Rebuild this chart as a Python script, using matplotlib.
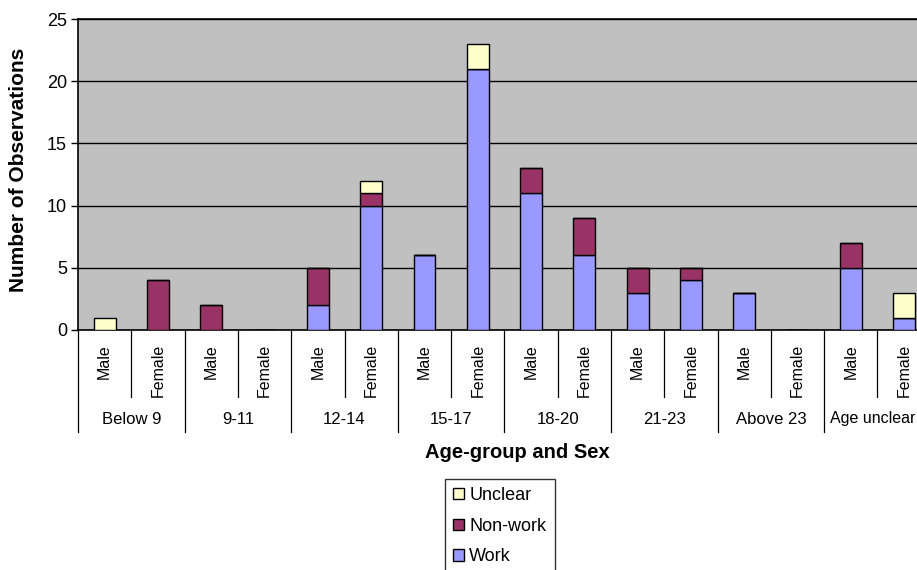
import numpy as np
import matplotlib
matplotlib.use("Agg")
import matplotlib.pyplot as plt
from matplotlib.transforms import blended_transform_factory

groups = ["Below 9", "9-11", "12-14", "15-17", "18-20", "21-23", "Above 23", "Age unclear"]
sexes = ["Male", "Female"]
work     = [0, 0, 0, 0, 2, 10, 6, 21, 11, 6, 3, 4, 3, 0, 5, 1]
non_work = [0, 4, 2, 0, 3, 1, 0, 0, 2, 3, 2, 1, 0, 0, 2, 0]
unclear  = [1, 0, 0, 0, 0, 1, 0, 2, 0, 0, 0, 0, 0, 0, 0, 2]

c_work, c_non, c_unc = "#9999FF", "#993366", "#FFFFCC"

plt.rcParams["font.family"] = ["Liberation Sans", "DejaVu Sans"]

fig = plt.figure(figsize=(9.17, 5.70), dpi=100)
W, H = 917, 570
ncat = len(work)
catw = 53.3
left, right, top, bottom = 78, 78 + ncat * catw, 19, 330
ax = fig.add_axes([left / W, 1 - bottom / H, (right - left) / W, (bottom - top) / H])
ax.set_facecolor("#C0C0C0")

x = np.arange(ncat)
w = 0.41
work = np.array(work); non_work = np.array(non_work); unclear = np.array(unclear)
kw = dict(width=w, edgecolor="black", linewidth=1.0, zorder=3)
b1 = ax.bar(x, work, color=c_work, label="Work", **kw)
b2 = ax.bar(x, non_work, bottom=work, color=c_non, label="Non-work", **kw)
b3 = ax.bar(x, unclear, bottom=work + non_work, color=c_unc, label="Unclear", **kw)

ax.set_xlim(-0.5, ncat - 0.5)
ax.set_ylim(0, 25)
ax.set_yticks([0, 5, 10, 15, 20, 25])
ax.yaxis.grid(True, color="black", linewidth=1.0)
ax.set_axisbelow(True)
ax.tick_params(axis="y", direction="out", length=5, width=1, labelsize=13, pad=3)
ax.set_xticks([])
ax.spines["right"].set_visible(False)
for s in ["left", "top", "bottom"]:
    ax.spines[s].set_color("black")
    ax.spines[s].set_linewidth(1.2)

# hierarchical x axis
trans = blended_transform_factory(ax.transData, ax.transAxes)
ph = bottom - top
for i in range(ncat + 1):
    xb = i - 0.5
    depth = 102 if i % 2 == 0 else 67
    ax.plot([xb, xb], [0, -depth / ph], transform=trans, color="black",
            linewidth=0.9, clip_on=False)
for i in range(ncat):
    ax.text(i, -14 / ph, sexes[i % 2], transform=trans, rotation=90,
            ha="center", va="top", fontsize=11.5)
for g, name in enumerate(groups[:-1]):
    ax.text(2 * g + 0.5, -89 / ph, name, transform=trans, ha="center",
            va="center", fontsize=12)
# last group label sits at the figure's right edge; keep it inside
fig.text(915 / W, 1 - 419 / H, groups[-1], ha="right", va="center", fontsize=11.5)

fig.text(517 / W, 1 - 453 / H, "Age-group and Sex", ha="center", va="center",
         fontsize=14.5, fontweight="bold")
fig.text(19 / W, 1 - 170 / H, "Number of Observations", ha="center", va="center",
         rotation=90, fontsize=15, fontweight="bold")

leg = fig.legend(handles=[b3, b2, b1], labels=["Unclear", "Non-work", "Work"],
                 loc="upper left", bbox_to_anchor=(445 / W, 1 - 479 / H),
                 fontsize=13, frameon=True, fancybox=False, handlelength=0.6,
                 handleheight=0.6, handletextpad=0.3, labelspacing=0.75,
                 borderpad=0.45, borderaxespad=0)
leg.get_frame().set_edgecolor("black")
leg.get_frame().set_linewidth(1.0)

fig.savefig("out.png", dpi=100)
